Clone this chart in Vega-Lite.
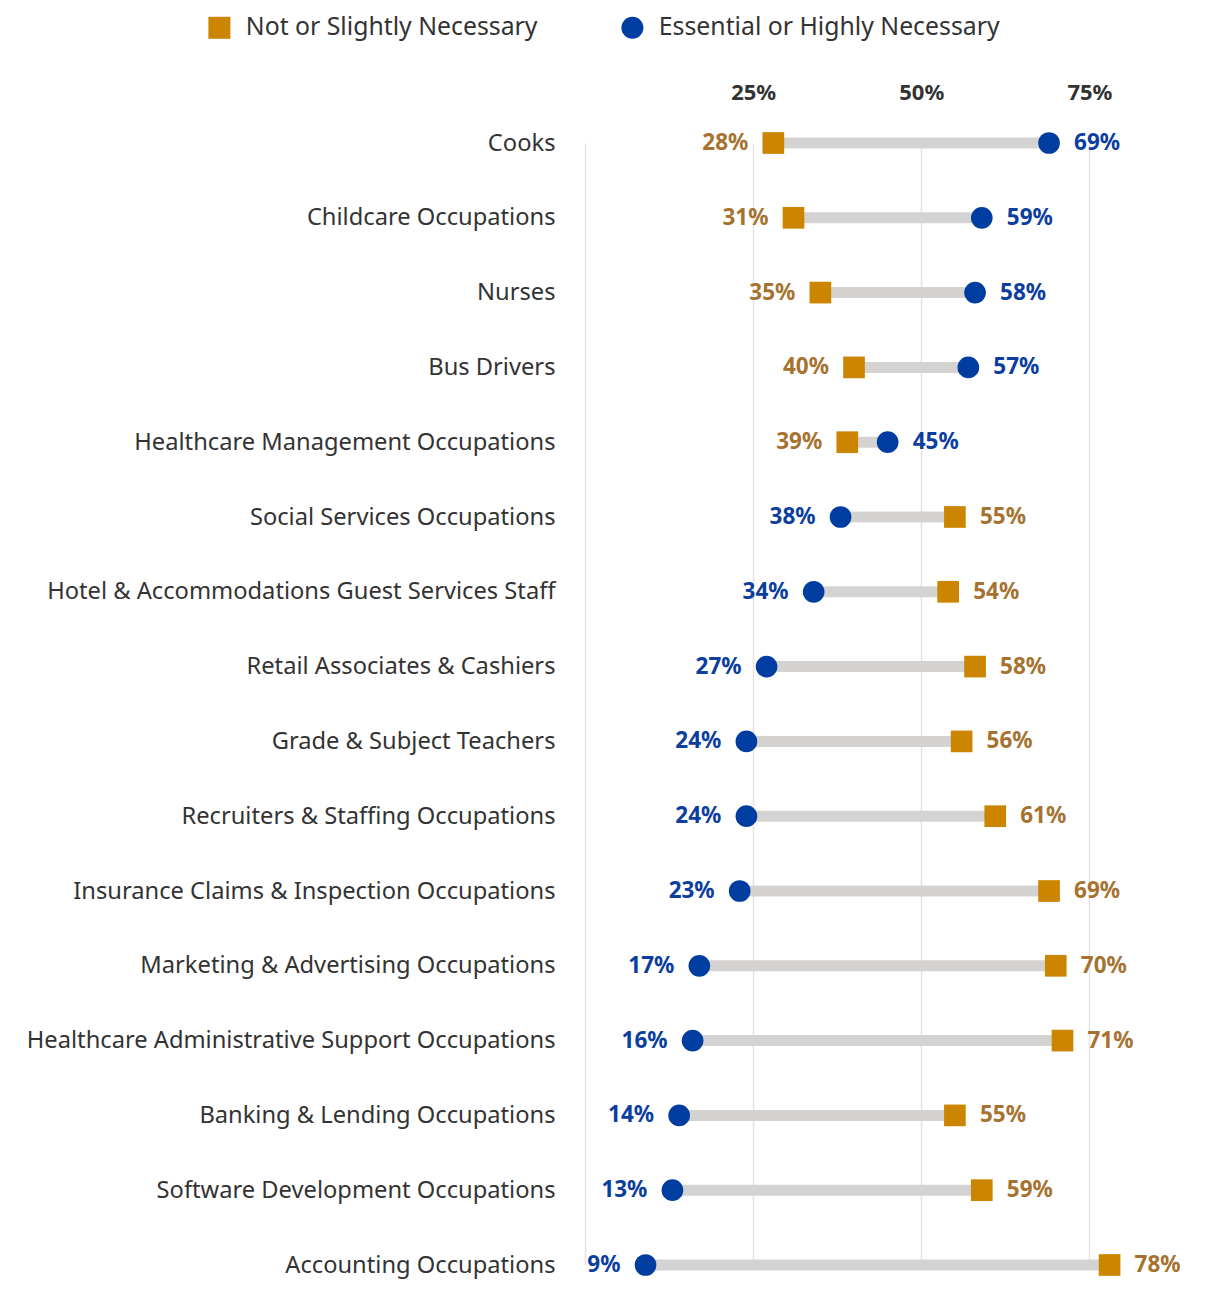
{
  "$schema": "https://vega.github.io/schema/vega-lite/v6.json",
  "autosize": {"type": "none"},
  "padding": {"left": 585, "top": 122, "right": 11, "bottom": 0},
  "width": 612,
  "height": 1185,
  "background": "white",
  "config": {
    "view": {"stroke": null},
    "font": "Noto Sans"
  },
  "data": {
    "values": [
      {"occupation": "Cooks", "not": 28, "ess": 69},
      {"occupation": "Childcare Occupations", "not": 31, "ess": 59},
      {"occupation": "Nurses", "not": 35, "ess": 58},
      {"occupation": "Bus Drivers", "not": 40, "ess": 57},
      {"occupation": "Healthcare Management Occupations", "not": 39, "ess": 45},
      {"occupation": "Social Services Occupations", "not": 55, "ess": 38},
      {"occupation": "Hotel & Accommodations Guest Services Staff", "not": 54, "ess": 34},
      {"occupation": "Retail Associates & Cashiers", "not": 58, "ess": 27},
      {"occupation": "Grade & Subject Teachers", "not": 56, "ess": 24},
      {"occupation": "Recruiters & Staffing Occupations", "not": 61, "ess": 24},
      {"occupation": "Insurance Claims & Inspection Occupations", "not": 69, "ess": 23},
      {"occupation": "Marketing & Advertising Occupations", "not": 70, "ess": 17},
      {"occupation": "Healthcare Administrative Support Occupations", "not": 71, "ess": 16},
      {"occupation": "Banking & Lending Occupations", "not": 55, "ess": 14},
      {"occupation": "Software Development Occupations", "not": 59, "ess": 13},
      {"occupation": "Accounting Occupations", "not": 78, "ess": 9}
    ]
  },
  "encoding": {
    "y": {
      "field": "occupation",
      "type": "nominal",
      "sort": null,
      "scale": {"type": "point", "range": [21, 1143], "padding": 0},
      "axis": {
        "title": null,
        "domain": false,
        "ticks": false,
        "grid": false,
        "labelPadding": 30,
        "labelFontSize": 23.7,
        "labelColor": "#333333",
        "labelLimit": 0
      }
    }
  },
  "layer": [
    {
      "mark": {"type": "rule", "strokeWidth": 11, "color": "#D4D3D1"},
      "encoding": {
        "x": {
          "field": "not",
          "type": "quantitative",
          "scale": {"domain": [0, 91], "nice": false, "zero": false},
          "axis": {
            "orient": "top",
            "title": null,
            "values": [0, 25, 50, 75],
            "labelExpr": "datum.value == 0 ? '' : datum.value + '%'",
            "domain": false,
            "ticks": false,
            "grid": true,
            "gridColor": "#E3E3E3",
            "gridWidth": 1.5,
            "labelFontSize": 22,
            "labelFontWeight": "bold",
            "labelColor": "#333333",
            "labelPadding": 18
          }
        },
        "x2": {"field": "ess"}
      }
    },
    {
      "transform": [{"fold": ["not", "ess"], "as": ["type", "value"]}],
      "mark": {"type": "point", "filled": true, "size": 470, "opacity": 1},
      "encoding": {
        "x": {"field": "value", "type": "quantitative"},
        "color": {
          "field": "type",
          "type": "nominal",
          "scale": {"domain": ["not", "ess"], "range": ["#CC8500", "#003DA0"]},
          "legend": {
            "title": null,
            "orient": "none",
            "direction": "horizontal",
            "legendX": -378,
            "legendY": -107,
            "symbolSize": 484,
            "symbolStrokeWidth": 0,
            "labelFontSize": 24.8,
            "labelColor": "#333333",
            "labelOffset": 14,
            "columnPadding": 82,
            "labelLimit": 0,
            "labelExpr": "datum.value == 'not' ? 'Not or Slightly Necessary' : 'Essential or Highly Necessary'"
          }
        },
        "shape": {
          "field": "type",
          "type": "nominal",
          "scale": {"domain": ["not", "ess"], "range": ["square", "circle"]},
          "legend": {
            "title": null,
            "orient": "none",
            "direction": "horizontal",
            "legendX": -378,
            "legendY": -107,
            "symbolSize": 484,
            "symbolStrokeWidth": 0,
            "labelFontSize": 24.8,
            "labelColor": "#333333",
            "labelOffset": 14,
            "columnPadding": 82,
            "labelLimit": 0,
            "labelExpr": "datum.value == 'not' ? 'Not or Slightly Necessary' : 'Essential or Highly Necessary'"
          }
        }
      }
    },
    {
      "transform": [
        {"fold": ["not", "ess"], "as": ["type", "value"]},
        {"joinaggregate": [{"op": "min", "field": "value", "as": "minv"}], "groupby": ["occupation"]},
        {"filter": "datum.value == datum.minv"},
        {"calculate": "datum.value + '%'", "as": "lbl"}
      ],
      "mark": {"type": "text", "align": "right", "dx": -25, "fontSize": 22.5, "fontWeight": "bold"},
      "encoding": {
        "x": {"field": "value", "type": "quantitative"},
        "text": {"field": "lbl"},
        "color": {"condition": {"test": "datum.type == 'not'", "value": "#A6722F"}, "value": "#0B3E9E"}
      }
    },
    {
      "transform": [
        {"fold": ["not", "ess"], "as": ["type", "value"]},
        {"joinaggregate": [{"op": "max", "field": "value", "as": "maxv"}], "groupby": ["occupation"]},
        {"filter": "datum.value == datum.maxv"},
        {"calculate": "datum.value + '%'", "as": "lbl"}
      ],
      "mark": {"type": "text", "align": "left", "dx": 25, "fontSize": 22.5, "fontWeight": "bold"},
      "encoding": {
        "x": {"field": "value", "type": "quantitative"},
        "text": {"field": "lbl"},
        "color": {"condition": {"test": "datum.type == 'not'", "value": "#A6722F"}, "value": "#0B3E9E"}
      }
    }
  ]
}
